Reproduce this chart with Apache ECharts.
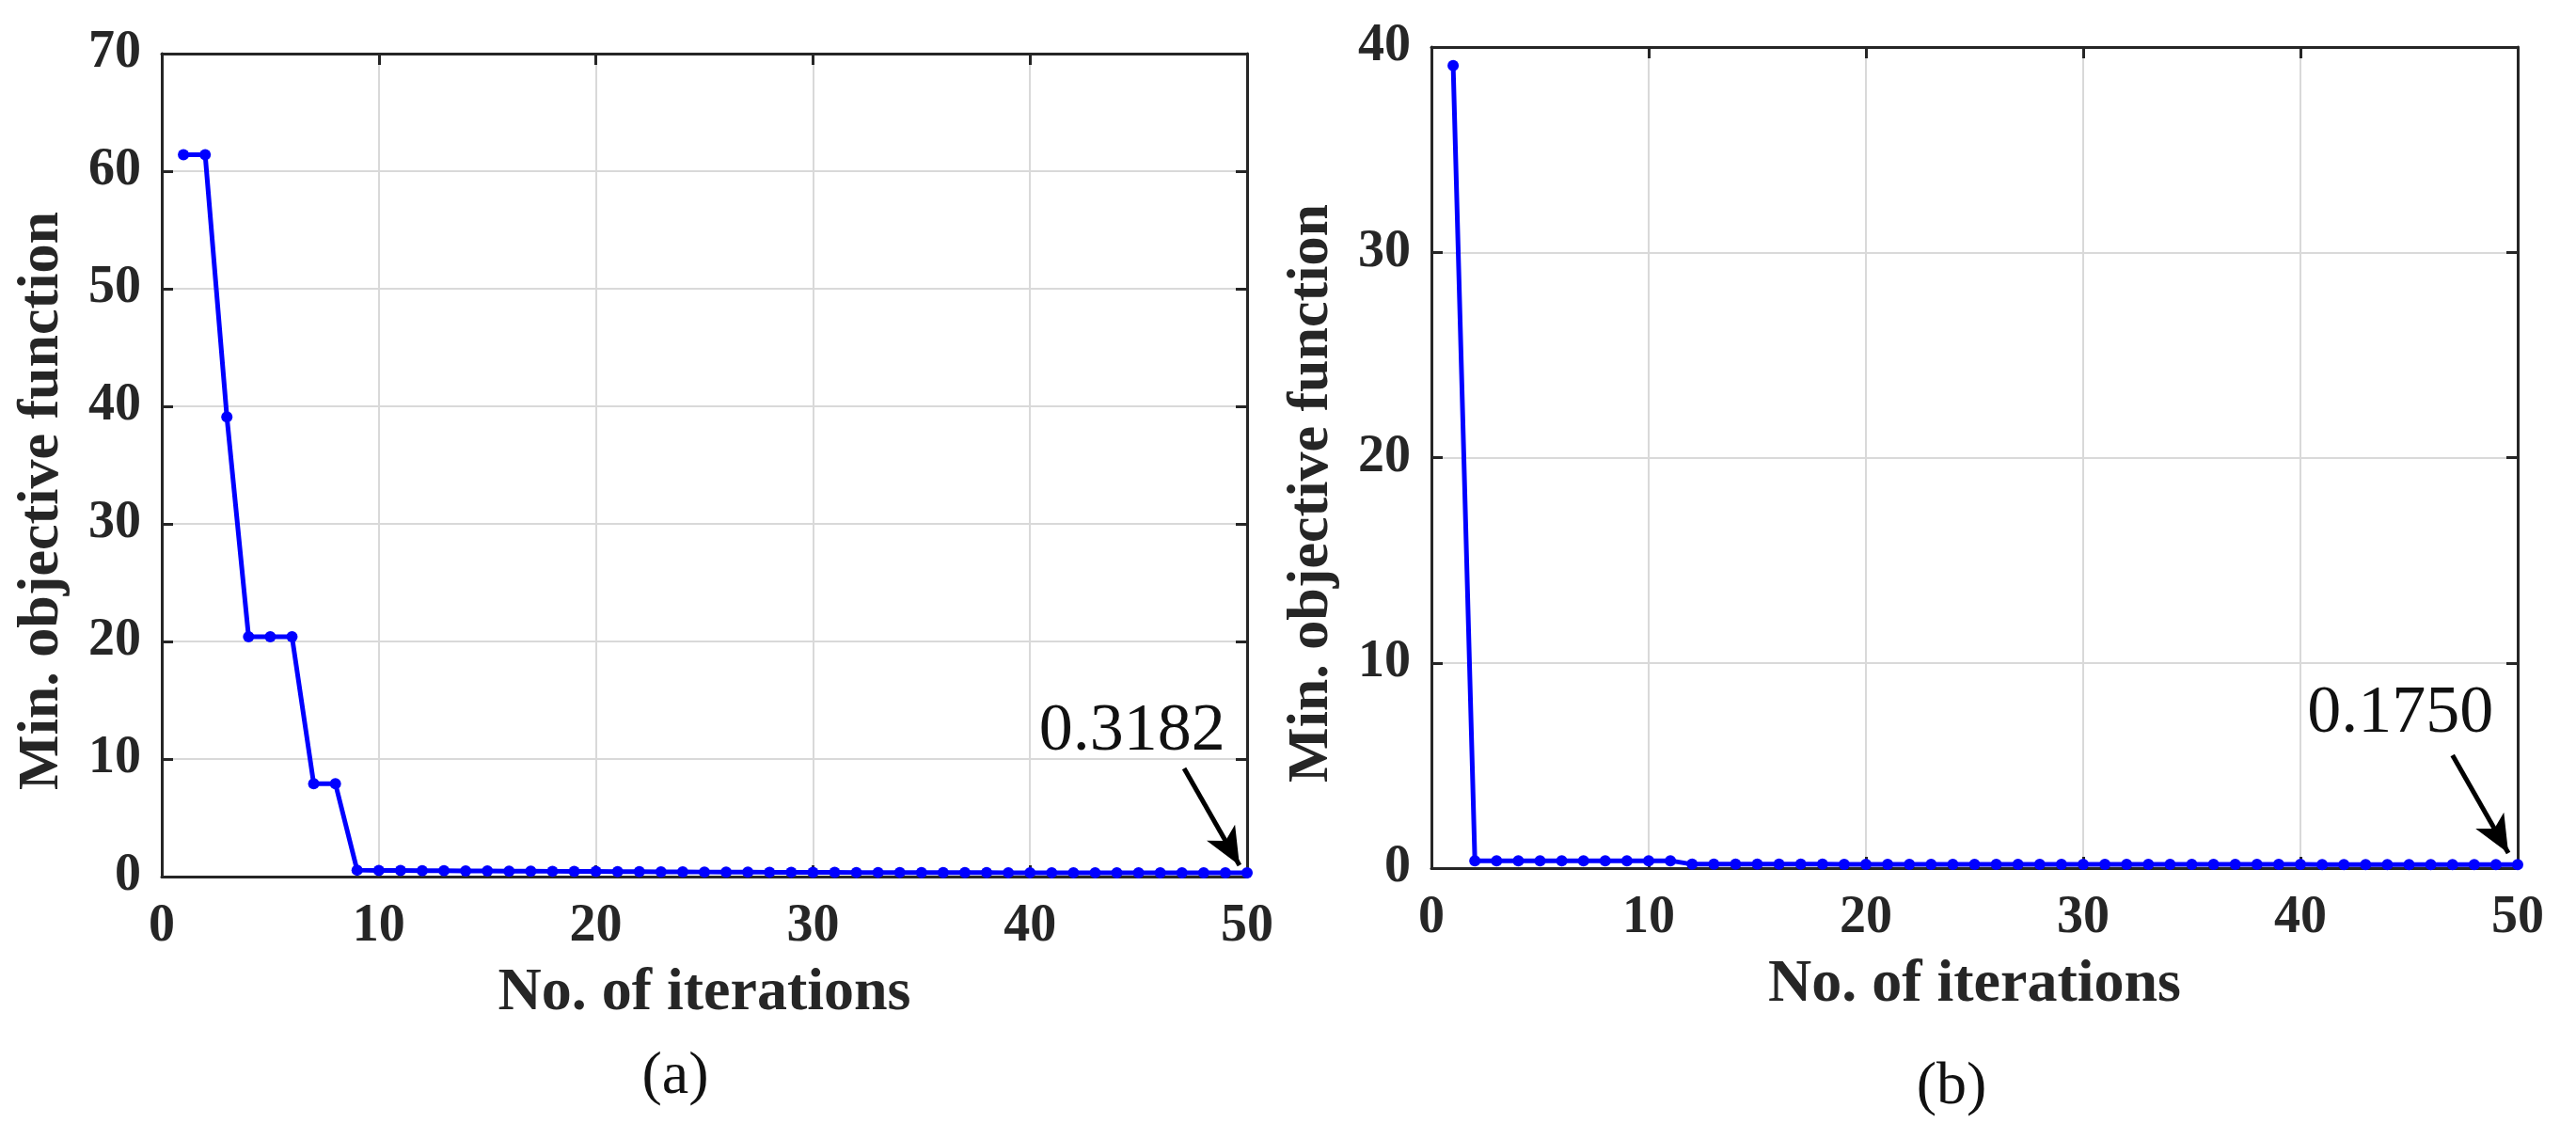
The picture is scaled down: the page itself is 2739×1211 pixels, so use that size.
<!DOCTYPE html>
<html>
<head>
<meta charset="utf-8">
<script src="https://cdn.jsdelivr.net/npm/echarts@6/dist/echarts.min.js"></script>
<style>
  html, body { margin: 0; padding: 0; background: #fff; }
  #chart { width: 2739px; height: 1211px; }
</style>
</head>
<body>
<div id="chart"></div>
<script>
// iteration numbers 1..50
const iterations = [
  1, 2, 3, 4, 5, 6, 7, 8, 9, 10, 11, 12, 13, 14, 15, 16, 17, 18, 19, 20,
  21, 22, 23, 24, 25, 26, 27, 28, 29, 30, 31, 32, 33, 34, 35, 36, 37, 38, 39, 40,
  41, 42, 43, 44, 45, 46, 47, 48, 49, 50
];

// (a) min objective function per iteration
const objA = [
  61.4, 61.4, 39.1, 20.4, 20.4, 20.4, 7.9, 7.9, 0.55, 0.52,
  0.52, 0.50, 0.50, 0.48, 0.48, 0.46, 0.46, 0.45, 0.44, 0.44,
  0.42, 0.42, 0.40, 0.40, 0.39, 0.38, 0.38, 0.37, 0.37, 0.36,
  0.36, 0.35, 0.35, 0.35, 0.34, 0.34, 0.34, 0.34, 0.33, 0.33,
  0.33, 0.33, 0.33, 0.32, 0.32, 0.32, 0.32, 0.32, 0.32, 0.3182
];

// (b) min objective function per iteration
const objB = [
  39.1, 0.36, 0.36, 0.36, 0.36, 0.36, 0.36, 0.36, 0.36, 0.36,
  0.36, 0.19, 0.19, 0.19, 0.19, 0.19, 0.19, 0.19, 0.18, 0.18,
  0.18, 0.18, 0.18, 0.18, 0.18, 0.18, 0.18, 0.18, 0.18, 0.18,
  0.18, 0.18, 0.18, 0.18, 0.18, 0.18, 0.18, 0.18, 0.18, 0.18,
  0.175, 0.175, 0.175, 0.175, 0.175, 0.175, 0.175, 0.175, 0.175, 0.175
];

const finalA = '0.3182';
const finalB = '0.1750';
const panelNames = ['(a)', '(b)'];
const xTitle = 'No. of iterations';
const yTitle = 'Min. objective function';

const FONT = "'Liberation Serif', 'Times New Roman', serif";
const AXIS_COLOR = '#262626';
const BLUE = '#0000ff';

const chart = echarts.init(document.getElementById('chart'));

function pairs(ys) {
  return iterations.map((x, i) => [x, ys[i]]);
}

const boxLine = { show: true, onZero: false, lineStyle: { color: AXIS_COLOR, width: 3 } };
const boxTick = { show: true, inside: true, length: 12, lineStyle: { color: AXIS_COLOR, width: 3 } };
const gridLine = { show: true, lineStyle: { color: '#d9d9d9', width: 2 } };

function mainX(gridIndex) {
  return {
    type: 'value', gridIndex: gridIndex, min: 0, max: 50, interval: 10,
    name: xTitle, nameLocation: 'middle', nameGap: 92,
    nameTextStyle: { fontFamily: FONT, fontWeight: 'bold', fontSize: 64, color: AXIS_COLOR },
    axisLine: boxLine,
    axisTick: boxTick,
    axisLabel: { fontFamily: FONT, fontWeight: 'bold', fontSize: 56, color: AXIS_COLOR, margin: 26 },
    splitLine: gridLine
  };
}

function topX(gridIndex) {
  return {
    type: 'value', gridIndex: gridIndex, position: 'top', min: 0, max: 50, interval: 10,
    axisLine: boxLine,
    axisTick: boxTick,
    axisLabel: { show: false },
    splitLine: { show: false }
  };
}

function mainY(gridIndex, max) {
  return {
    type: 'value', gridIndex: gridIndex, min: 0, max: max, interval: 10,
    name: yTitle, nameLocation: 'middle', nameGap: 96, nameRotate: 90,
    nameTextStyle: {
      fontFamily: FONT, fontWeight: 'bold', fontSize: 62, color: AXIS_COLOR,
      padding: [0, 76, 0, 0]
    },
    axisLine: boxLine,
    axisTick: boxTick,
    axisLabel: { fontFamily: FONT, fontWeight: 'bold', fontSize: 56, color: AXIS_COLOR, margin: 22 },
    splitLine: gridLine
  };
}

function rightY(gridIndex, max) {
  return {
    type: 'value', gridIndex: gridIndex, position: 'right', min: 0, max: max, interval: 10,
    axisLine: boxLine,
    axisTick: boxTick,
    axisLabel: { show: false },
    splitLine: { show: false }
  };
}

function lineSeries(ys, axisIdx, label, textAt, arrowFrom, arrowTo) {
  return {
    type: 'line', xAxisIndex: axisIdx, yAxisIndex: axisIdx,
    data: pairs(ys),
    symbol: 'circle', symbolSize: 12, showSymbol: true,
    lineStyle: { color: BLUE, width: 5 },
    itemStyle: { color: BLUE },
    animation: false, z: 5,
    markPoint: {
      symbol: 'circle', symbolSize: 1,
      itemStyle: { color: 'rgba(0,0,0,0)' },
      label: {
        show: true, position: 'inside', formatter: '{b}',
        fontFamily: FONT, fontSize: 72, color: '#111'
      },
      data: [{ name: label, coord: textAt }]
    },
    markLine: {
      silent: true, animation: false,
      symbol: ['none', 'arrow'], symbolSize: [26, 40],
      lineStyle: { color: '#000', width: 5, type: 'solid' },
      label: { show: false },
      data: [[{ coord: arrowFrom }, { coord: arrowTo }]]
    }
  };
}

const option = {
  backgroundColor: '#fff',
  animation: false,
  grid: [
    { left: 172, top: 57, width: 1154, height: 875, containLabel: false },
    { left: 1522, top: 50, width: 1155, height: 873, containLabel: false }
  ],
  xAxis: [mainX(0), topX(0), mainX(1), topX(1)],
  yAxis: [
    mainY(0, 70), rightY(0, 70),
    mainY(1, 40), rightY(1, 40)
  ],
  series: [
    lineSeries(objA, 0, finalA, [44.7, 12.3], [47.1, 9.2], [49.65, 0.96]),
    lineSeries(objB, 2, finalB, [44.6, 7.5], [47.0, 5.5], [49.57, 0.73])
  ],
  graphic: [
    {
      type: 'text', x: 718, y: 1145,
      style: { text: panelNames[0], font: '64px ' + FONT, fill: '#111', align: 'center', verticalAlign: 'middle' }
    },
    {
      type: 'text', x: 2075, y: 1156,
      style: { text: panelNames[1], font: '64px ' + FONT, fill: '#111', align: 'center', verticalAlign: 'middle' }
    }
  ]
};

chart.setOption(option);
window.addEventListener('resize', function () {
  chart.resize();
});
</script>
</body>
</html>
